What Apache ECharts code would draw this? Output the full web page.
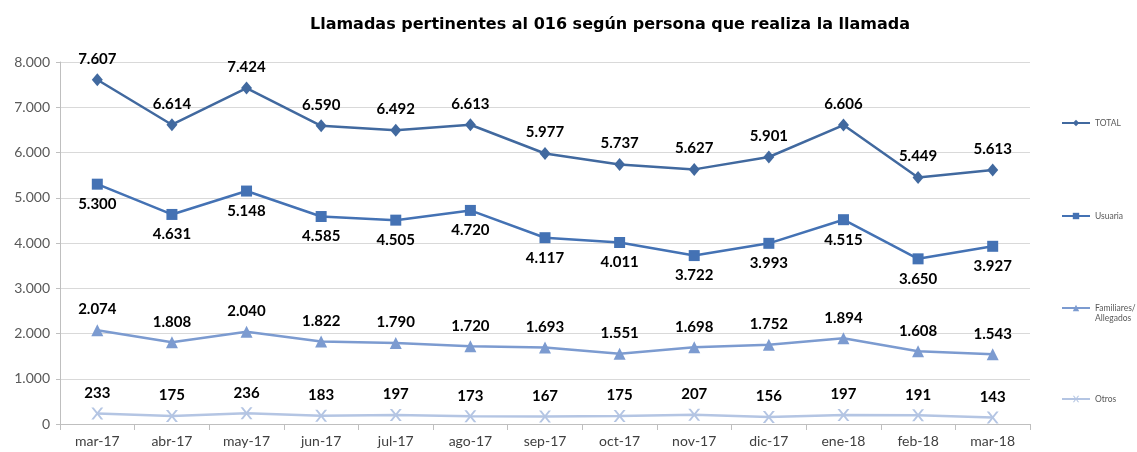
<!DOCTYPE html>
<html><head><meta charset="utf-8">
<script src="https://cdn.jsdelivr.net/npm/echarts@6/dist/echarts.min.js"></script>
<style>html,body{margin:0;padding:0;background:#fff}#c{width:1137px;height:452px}</style>
</head><body><div id="c"></div>
<script>
const categories = ['mar-17','abr-17','may-17','jun-17','jul-17','ago-17','sep-17','oct-17','nov-17','dic-17','ene-18','feb-18','mar-18'];
const total = [7607,6614,7424,6590,6492,6613,5977,5737,5627,5901,6606,5449,5613];
const usuaria = [5300,4631,5148,4585,4505,4720,4117,4011,3722,3993,4515,3650,3927];
const familiares = [2074,1808,2040,1822,1790,1720,1693,1551,1698,1752,1894,1608,1543];
const otros = [233,175,236,183,197,173,167,175,207,156,197,191,143];
const yTicks = [0,1000,2000,3000,4000,5000,6000,7000,8000];

const fmt = v => String(v).replace(/\B(?=(\d{3})+(?!\d))/g, '.');
const FONT = 'Lato, "DejaVu Sans", sans-serif';
const labelStyle = pos => ({show:true, position:pos, distance:7, color:'#000', fontWeight:'bold', fontSize:15, fontFamily:FONT, formatter:p=>fmt(p.value)});
const xPath = 'path://M0,0 L2,0 L5,3 L8,0 L10,0 L6,4 L10,8 L8,8 L5,5 L2,8 L0,8 L4,4 Z';

const chart = echarts.init(document.getElementById('c'));
const names = ['TOTAL','Usuaria','Familiares/Allegados','Otros'];
const legendTops = [118, 211, 293, 394];
chart.setOption({
  animation:false,
  title:{text:'Llamadas pertinentes al 016 según persona que realiza la llamada', left:605, textAlign:'center', top:12,
    textStyle:{fontSize:16, fontWeight:'bold', color:'#000', fontFamily:'"DejaVu Sans", sans-serif'}},
  legend: names.map((n,i)=>({data:[n], left:1061, top:legendTops[i], orient:'vertical', itemWidth:28, itemHeight:8, itemGap:0, padding:0,
    formatter: nm => nm === 'Familiares/Allegados' ? ' \nFamiliares/\nAllegados' : nm,
    textStyle:{fontSize:8.5, lineHeight:10, color:'#595959', fontFamily:FONT}})),
  grid:{left:60, right:107, top:62, bottom:28, containLabel:false},
  xAxis:{type:'category', data:categories, boundaryGap:true,
    axisLine:{lineStyle:{color:'#bfbfbf'}}, axisTick:{show:true, length:6, lineStyle:{color:'#bfbfbf'}},
    axisLabel:{color:'#404040', fontSize:14, fontFamily:FONT, margin:10}},
  yAxis:{type:'value', min:0, max:8000, interval:1000,
    axisLine:{show:true, lineStyle:{color:'#bfbfbf'}}, axisTick:{show:true, length:4, lineStyle:{color:'#bfbfbf'}},
    splitLine:{lineStyle:{color:'#d9d9d9'}},
    axisLabel:{color:'#595959', fontSize:14, fontFamily:FONT, margin:10, formatter:v=>fmt(v)}},
  series:[
    {name:'TOTAL', type:'line', data:total, color:'#41699f', symbol:'diamond', symbolSize:[11,13], lineStyle:{width:2.5}, label:labelStyle('top')},
    {name:'Usuaria', type:'line', data:usuaria, color:'#4472b4', symbol:'rect', symbolSize:11, lineStyle:{width:2.5}, label:labelStyle('bottom')},
    {name:'Familiares/Allegados', type:'line', data:familiares, color:'#7c9bd0', symbol:'triangle', symbolSize:12, lineStyle:{width:2.5}, label:labelStyle('top')},
    {name:'Otros', type:'line', data:otros, color:'#b4c5e3', symbol:xPath, symbolSize:12, lineStyle:{width:2.5}, label:labelStyle('top')}
  ]
});
</script></body></html>
